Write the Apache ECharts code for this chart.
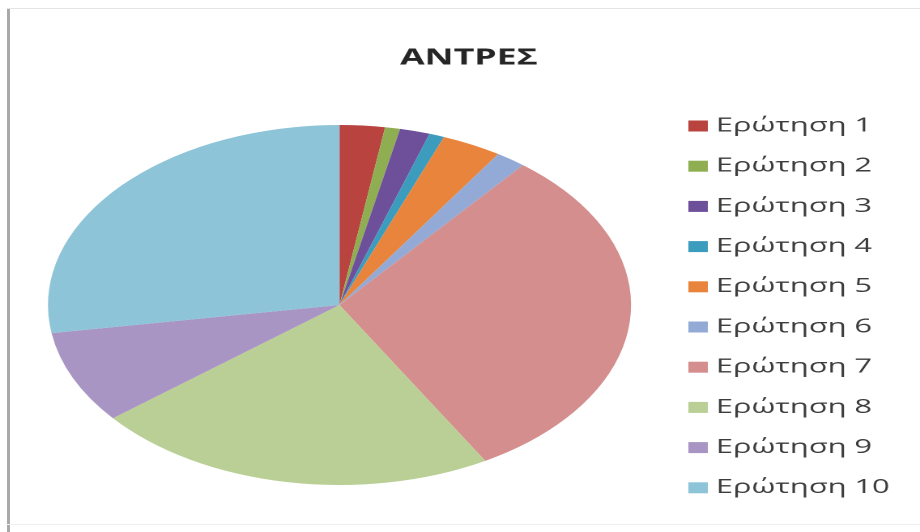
<!DOCTYPE html>
<html>
<head>
<meta charset="utf-8">
<script src="https://cdn.jsdelivr.net/npm/echarts@6/dist/echarts.min.js"></script>
<style>
  html, body { margin: 0; padding: 0; background: #ffffff; }
  #page { position: relative; width: 920px; height: 532px; overflow: hidden; background: #ffffff; }
  #chart { position: absolute; left: 0; top: 0; width: 568px; height: 532px; transform: scaleX(1.6197); transform-origin: 0 0; }
  .bl { position: absolute; left: 7px; top: 8px; width: 3px; height: 524px; background: #a9a9a9; }
  .bt { position: absolute; left: 7px; top: 8px; width: 913px; height: 1px; background: #e4e4e4; }
  .bb { position: absolute; left: 7px; top: 524px; width: 913px; height: 1px; background: #efefef; }
</style>
</head>
<body>
<div id="page">
  <div id="chart"></div>
  <div class="bl"></div>
  <div class="bt"></div>
  <div class="bb"></div>
</div>
<script>
const chartTitle = 'ΑΝΤΡΕΣ';
const categories = ['Ερώτηση 1', 'Ερώτηση 2', 'Ερώτηση 3', 'Ερώτηση 4', 'Ερώτηση 5',
                    'Ερώτηση 6', 'Ερώτηση 7', 'Ερώτηση 8', 'Ερώτηση 9', 'Ερώτηση 10'];
const values = [3, 1, 2, 1, 4, 2, 37, 27, 10, 33];
const colors = ['#b8433f', '#8fae52', '#6e4f9a', '#3c9cbd', '#e8843b',
                '#93aad6', '#d38e8d', '#bacf95', '#a895c3', '#8ec4d7'];

const chart = echarts.init(document.getElementById('chart'), null, { renderer: 'canvas', devicePixelRatio: 2 });
const option = {
  backgroundColor: 'transparent',
  animation: false,
  color: colors,
  title: {
    text: chartTitle,
    left: 242,
    top: 42,
    textStyle: { fontFamily: 'Open Sans', fontWeight: 'bold', fontSize: 22, color: '#262626' }
  },
  legend: {
    orient: 'vertical',
    left: 420,
    top: 110,
    icon: 'rect',
    itemWidth: 12,
    itemHeight: 11,
    itemGap: 18.2,
    textStyle: { fontFamily: 'Open Sans', fontSize: 19, color: '#3c3c3c', lineHeight: 22 },
    data: categories
  },
  series: [{
    type: 'pie',
    center: [209.6, 305],
    radius: 180,
    startAngle: 90,
    clockwise: true,
    label: { show: false },
    labelLine: { show: false },
    itemStyle: { borderWidth: 0 },
    emphasis: { disabled: true },
    data: categories.map((c, i) => ({ name: c, value: values[i] }))
  }]
};
chart.setOption(option);
</script>
</body>
</html>
